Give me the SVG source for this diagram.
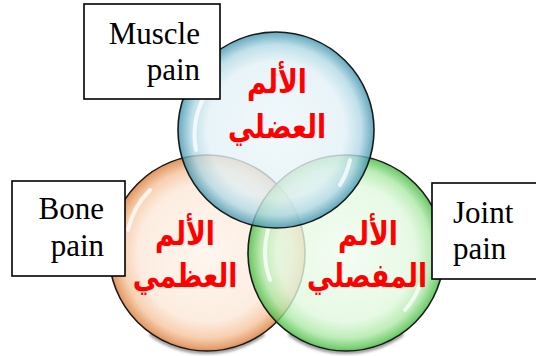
<svg xmlns="http://www.w3.org/2000/svg" width="536" height="356" viewBox="0 0 536 356">
<defs>
<radialGradient id="gBlue" cx="0.5" cy="0.5" r="0.5">
<stop offset="0" stop-color="#eef7fa"/>
<stop offset="0.7" stop-color="#e2f1f6"/>
<stop offset="0.87" stop-color="#b0d8e5"/>
<stop offset="1" stop-color="#3f93ad"/>
</radialGradient>
<radialGradient id="gOrange" cx="0.5" cy="0.5" r="0.5">
<stop offset="0" stop-color="#fef4ec"/>
<stop offset="0.7" stop-color="#fce8d8"/>
<stop offset="0.87" stop-color="#f5c49c"/>
<stop offset="1" stop-color="#d97a36"/>
</radialGradient>
<radialGradient id="gGreen" cx="0.5" cy="0.5" r="0.5">
<stop offset="0" stop-color="#f1fcf0"/>
<stop offset="0.7" stop-color="#e1f8de"/>
<stop offset="0.87" stop-color="#ace9a6"/>
<stop offset="1" stop-color="#43b93d"/>
</radialGradient>
<filter id="sh" x="-20%" y="-20%" width="140%" height="140%">
<feGaussianBlur stdDeviation="1.5"/>
</filter>
</defs>
<style>
.bubble{stroke:#1a1a1a;stroke-width:1.6;fill-opacity:0.8}
.shadow{fill:none;stroke:#333;stroke-width:3;filter:url(#sh);opacity:0.6}
.hi{fill:none;stroke:#fff;stroke-width:4;stroke-linecap:round;opacity:0.75}
.box{fill:#fff;stroke:#000;stroke-width:1.6}
.en{font-family:"Liberation Serif","Times New Roman",serif;font-size:31px;fill:#000}
.ar{font-family:"DejaVu Sans",sans-serif;font-weight:bold;font-size:28px;fill:#ff0000;text-anchor:middle}
</style>
<g id="shadows">
<path class="shadow" d="M150,334 A98,98 0 0 0 264,334"/>
<path class="shadow" d="M289,334 A98,98 0 0 0 403,334"/>
</g>
<g id="node-bone">
<circle class="bubble" cx="207" cy="253" r="98" fill="url(#gOrange)"/>
<path class="hi" d="M128,230 A82,82 0 0 1 150,190"/>
</g>
<g id="node-joint">
<circle class="bubble" cx="346" cy="253" r="98" fill="url(#gGreen)"/>
<path class="hi" d="M270,280 A82,82 0 0 1 268,230"/>
<path class="hi" d="M420,285 A82,82 0 0 1 405,310" opacity="0.5"/>
</g>
<g id="node-muscle">
<circle class="bubble" cx="276" cy="130" r="98" fill="url(#gBlue)"/>
<path class="hi" d="M196,150 A82,82 0 0 1 205,95"/>
<path class="hi" d="M350,160 A82,82 0 0 1 340,185" opacity="0.5"/>
</g>
<g id="labels-ar">
<text class="ar" transform="translate(277,93) scale(0.95,1.18)">الألم</text>
<text class="ar" transform="translate(277,138) scale(0.95,1.18)">العضلي</text>
<text class="ar" transform="translate(185,245) scale(0.95,1.18)">الألم</text>
<text class="ar" transform="translate(185,287) scale(0.95,1.18)">العظمي</text>
<text class="ar" transform="translate(368,245) scale(0.95,1.18)">الألم</text>
<text class="ar" transform="translate(367,287) scale(0.95,1.18)">المفصلي</text>
</g>
<g id="box-muscle">
<rect class="box" x="84" y="4" width="136" height="95"/>
<text class="en" x="200" y="44" text-anchor="end">Muscle</text>
<text class="en" x="200" y="80" text-anchor="end">pain</text>
</g>
<g id="box-bone">
<rect class="box" x="12" y="181" width="113" height="95"/>
<text class="en" x="104" y="219" text-anchor="end">Bone</text>
<text class="en" x="104" y="256" text-anchor="end">pain</text>
</g>
<g id="box-joint">
<rect class="box" x="432" y="183" width="108" height="96"/>
<text class="en" x="453" y="223">Joint</text>
<text class="en" x="453" y="259">pain</text>
</g>
<g id="connectors"></g>
</svg>
